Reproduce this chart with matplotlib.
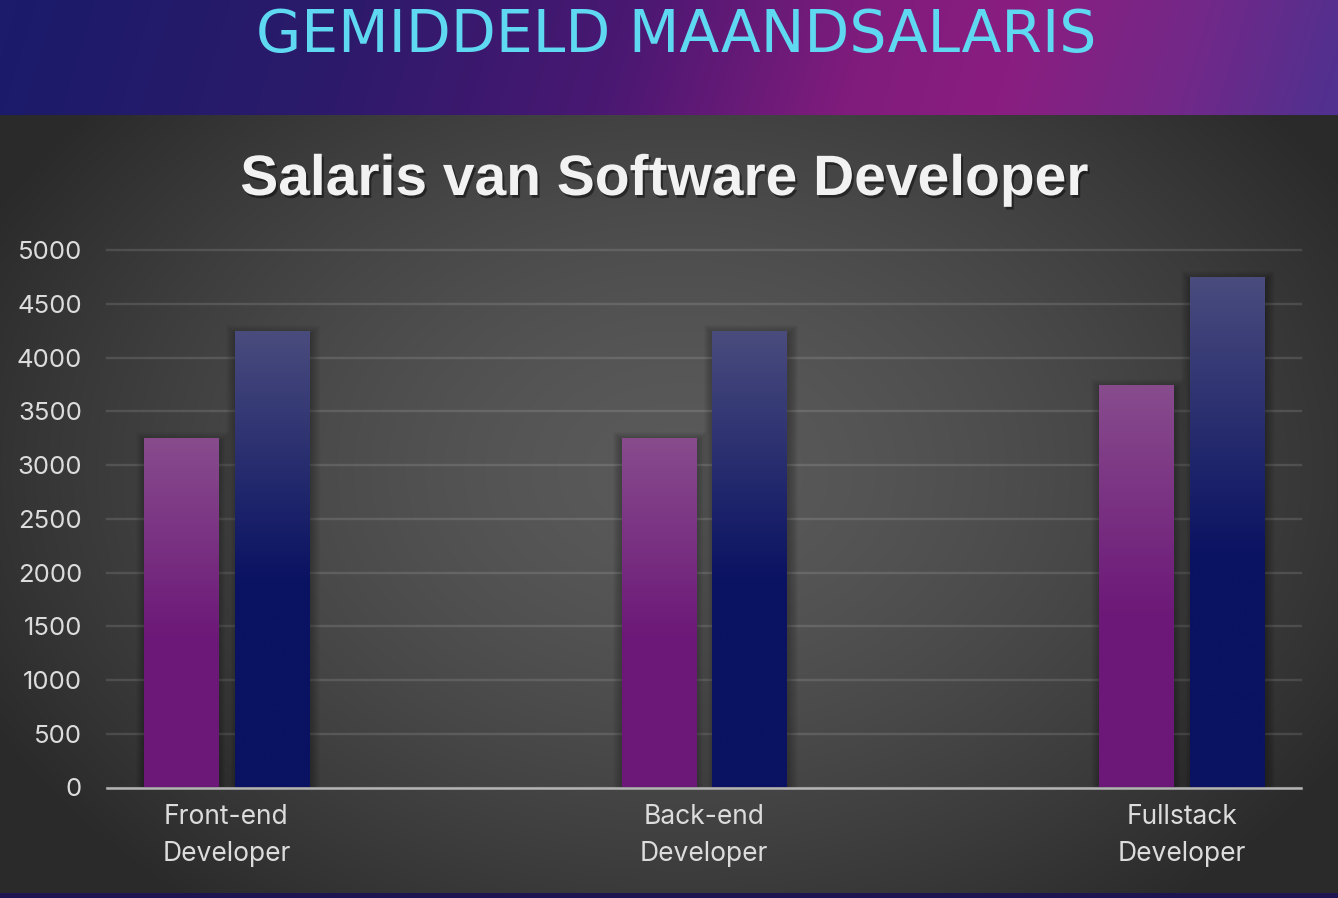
import numpy as np
import matplotlib
matplotlib.use('Agg')
import matplotlib.pyplot as plt
from matplotlib.patches import Rectangle
from matplotlib import patheffects as pe
from matplotlib.colors import to_rgb

# data
categories = ['Front-end\nDeveloper', 'Back-end\nDeveloper', 'Fullstack\nDeveloper']
salary_purple = [3250, 3250, 3750]
salary_blue = [4250, 4250, 4750]
y_ticks = list(range(0, 5001, 500))

plt.rcParams['font.family'] = ['Inter', 'DejaVu Sans']

W, H = 1338, 898
fig = plt.figure(figsize=(W / 100, H / 100), dpi=100)

# background: header band, grey radial panel, bottom strip
yy, xx = np.mgrid[0:H, 0:W]
r = np.sqrt(((xx - 680) / 780.0) ** 2 + ((yy - 470) / 560.0) ** 2)
r = np.clip(r, 0, 1)
v = 0x5a / 255 - (0x5a - 0x2a) / 255 * r ** 1.5
bg = np.repeat(v[..., None], 3, axis=2)

header_h = 115
stops_x = [0, 330, 620, 860, 1010, 1180, 1338]
stops_c = ['#1b1a6b', '#2c1a6a', '#4a1872', '#801c7c', '#8a1e80', '#742888', '#52308f']
hx = xx[:header_h] + (yy[:header_h] - 57) * 0.3
for ch in range(3):
    vals = [to_rgb(c)[ch] for c in stops_c]
    bg[:header_h, :, ch] = np.interp(hx, stops_x, vals)
bg[893:] = to_rgb('#1d1552')

bgax = fig.add_axes([0, 0, 1, 1], zorder=-10)
bgax.imshow(bg, extent=(0, 1, 0, 1), aspect='auto', interpolation='bilinear')
bgax.axis('off')

# chart area
ax = fig.add_axes([107 / W, 110.5 / H, (1301 - 107) / W, (787.5 - 250.3) / H])
ax.set_facecolor('none')

x = np.arange(len(categories))
bw = 0.155
off = 0.095
bars_p = ax.bar(x - off, salary_purple, bw, color='none', zorder=3)
bars_b = ax.bar(x + off, salary_blue, bw, color='none', zorder=3)

px_x = 1 / 477.6   # one pixel in x data units
px_y = 5000 / 537.2  # one pixel in y data units


def fill_gradient(bars, bottom_c, top_c, solid_frac):
    bottom = np.array(to_rgb(bottom_c))
    top = np.array(to_rgb(top_c))
    f = np.linspace(0, 1, 256)
    t = np.clip((f - solid_frac) / (1 - solid_frac), 0, 1)
    cols = bottom + (top - bottom) * t[:, None]
    img = cols[::-1][:, None, :]
    for bar in bars:
        x0, w, h = bar.get_x(), bar.get_width(), bar.get_height()
        im = ax.imshow(img, extent=(x0, x0 + w, 0, h), aspect='auto',
                       interpolation='bilinear', zorder=3)
        im.set_clip_path(bar)
        # soft shadow
        for s in range(1, 11):
            ax.add_patch(Rectangle((x0 - s * px_x + 1.5 * px_x, 0),
                                   w + 2 * s * px_x, h + s * px_y - 4 * px_y,
                                   color='black', alpha=0.028, lw=0, zorder=2))


fill_gradient(bars_p, '#6c1878', '#884c8d', 0.42)
fill_gradient(bars_b, '#0a1262', '#4a4c7e', 0.45)

ax.set_xlim(-0.25, 2.25)
ax.set_ylim(0, 5000)
ax.set_yticks(y_ticks)
ax.set_xticks(x)
ax.set_xticklabels(categories, linespacing=1.55)

ax.yaxis.grid(True, color='white', alpha=0.12, linewidth=1.7)
ax.set_axisbelow(True)
for gl in ax.get_ygridlines():
    gl.set_clip_on(False)

for side in ['top', 'right', 'left']:
    ax.spines[side].set_visible(False)
ax.spines['bottom'].set_color('#b4b4b4')
ax.spines['bottom'].set_linewidth(1.8)
ax.spines['bottom'].set_zorder(4)

ax.tick_params(axis='y', length=0, pad=18, labelsize=18.5, labelcolor='#dcdcdc')
ax.tick_params(axis='x', length=0, pad=12, labelsize=19, labelcolor='#dcdcdc')

# titles
fig.text(676.5 / W, (H - 52) / H, 'GEMIDDELD MAANDSALARIS', ha='center', va='baseline',
         color='#5fd9f2', fontsize=42, family=['DejaVu Sans'])
fig.text(665 / W, (H - 195) / H, 'Salaris van Software Developer', ha='center',
         va='baseline', color='#f2f2f2', fontsize=41, fontweight='bold',
         family=['Liberation Sans', 'DejaVu Sans'],
         path_effects=[pe.withSimplePatchShadow(offset=(1.5, -2), shadow_rgbFace='black',
                                                alpha=0.45)])

plt.savefig('out.png', dpi=100)
